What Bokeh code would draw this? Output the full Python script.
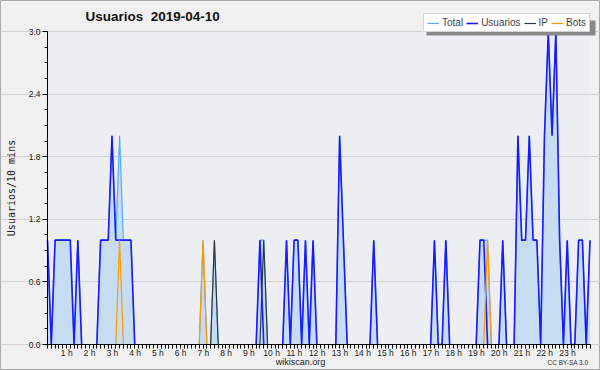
import math
from bokeh.plotting import figure
from bokeh.models import (Range1d, FixedTicker, Legend, LegendItem, Label,
                          PrintfTickFormatter, CustomJSTickFormatter,
                          ColumnDataSource, BoxAnnotation)
from bokeh.embed import file_html
from bokeh.resources import INLINE

# 10-minute bins, 2019-04-10, 00:00 .. 23:50 (six values per hour)
usuarios = [
    1, 0, 1, 1, 1, 1,   # 0 h
    1, 0, 1, 0, 0, 0,   # 1 h
    0, 0, 1, 1, 1, 2,   # 2 h
    1, 1, 1, 1, 1, 0,   # 3 h
    0, 0, 0, 0, 0, 0,   # 4 h
    0, 0, 0, 0, 0, 0,   # 5 h
    0, 0, 0, 0, 0, 0,   # 6 h
    0, 0, 0, 0, 0, 0,   # 7 h
    0, 0, 0, 0, 0, 0,   # 8 h
    0, 0, 1, 0, 0, 0,   # 9 h
    0, 0, 0, 1, 0, 1,   # 10 h
    1, 0, 1, 0, 1, 0,   # 11 h
    0, 0, 0, 0, 0, 2,   # 12 h
    1, 0, 0, 0, 0, 0,   # 13 h
    0, 0, 1, 0, 0, 0,   # 14 h
    0, 0, 0, 0, 0, 0,   # 15 h
    0, 0, 0, 0, 0, 0,   # 16 h
    1, 0, 0, 1, 0, 0,   # 17 h
    0, 0, 0, 0, 0, 0,   # 18 h
    1, 1, 0, 0, 0, 0,   # 19 h
    1, 0, 0, 0, 2, 1,   # 20 h
    1, 2, 1, 1, 0, 2,   # 21 h
    3, 2, 3, 1, 0, 1,   # 22 h
    0, 0, 1, 1, 0, 1,   # 23 h
]
ip = [
    0, 0, 0, 0, 0, 0,   # 0 h
    0, 0, 0, 0, 0, 0,   # 1 h
    0, 0, 0, 0, 0, 0,   # 2 h
    0, 0, 0, 0, 0, 0,   # 3 h
    0, 0, 0, 0, 0, 0,   # 4 h
    0, 0, 0, 0, 0, 0,   # 5 h
    0, 0, 0, 0, 0, 0,   # 6 h
    0, 0, 1, 0, 0, 0,   # 7 h
    0, 0, 0, 0, 0, 0,   # 8 h
    0, 0, 0, 1, 0, 0,   # 9 h
    0, 0, 0, 0, 0, 0,   # 10 h
    0, 0, 0, 0, 0, 0,   # 11 h
    0, 0, 0, 0, 0, 0,   # 12 h
    0, 0, 0, 0, 0, 0,   # 13 h
    0, 0, 0, 0, 0, 0,   # 14 h
    0, 0, 0, 0, 0, 0,   # 15 h
    0, 0, 0, 0, 0, 0,   # 16 h
    0, 0, 0, 0, 0, 0,   # 17 h
    0, 0, 0, 0, 0, 0,   # 18 h
    0, 0, 0, 0, 0, 0,   # 19 h
    0, 0, 0, 0, 0, 0,   # 20 h
    0, 0, 0, 0, 0, 0,   # 21 h
    0, 0, 0, 0, 0, 0,   # 22 h
    0, 0, 0, 0, 0, 0,   # 23 h
]
bots = [
    0, 0, 0, 0, 0, 0,   # 0 h
    0, 0, 0, 0, 0, 0,   # 1 h
    0, 0, 0, 0, 0, 0,   # 2 h
    0, 1, 0, 0, 0, 0,   # 3 h
    0, 0, 0, 0, 0, 0,   # 4 h
    0, 0, 0, 0, 0, 0,   # 5 h
    0, 0, 0, 0, 0, 1,   # 6 h
    0, 0, 0, 0, 0, 0,   # 7 h
    0, 0, 0, 0, 0, 0,   # 8 h
    0, 0, 0, 0, 0, 0,   # 9 h
    0, 0, 0, 0, 0, 0,   # 10 h
    0, 0, 0, 0, 0, 0,   # 11 h
    0, 0, 0, 0, 0, 0,   # 12 h
    0, 0, 0, 0, 0, 0,   # 13 h
    0, 0, 0, 0, 0, 0,   # 14 h
    0, 0, 0, 0, 0, 0,   # 15 h
    0, 0, 0, 0, 0, 0,   # 16 h
    0, 0, 0, 0, 0, 0,   # 17 h
    0, 0, 0, 0, 0, 0,   # 18 h
    0, 0, 1, 0, 0, 0,   # 19 h
    0, 0, 0, 0, 0, 0,   # 20 h
    0, 0, 0, 0, 0, 0,   # 21 h
    0, 0, 0, 0, 0, 0,   # 22 h
    0, 0, 0, 0, 0, 0,   # 23 h
]
total = [u + i + b for u, i, b in zip(usuarios, ip, bots)]
hours = [k / 6 for k in range(len(usuarios))]
hour_ticks = list(range(1, 24))
y_ticks = [0.0, 0.6, 1.2, 1.8, 2.4, 3.0]
Y_MAX = 3.0
X_MAX = hours[-1]


def hide_flat_zero(vals):
    """Do not draw runs lying on the baseline (the axis line is there)."""
    n = len(vals)
    out = []
    for k, v in enumerate(vals):
        near = (k > 0 and vals[k - 1] != 0) or (k < n - 1 and vals[k + 1] != 0)
        out.append(v if (v != 0 or near) else math.nan)
    return out


src = ColumnDataSource(dict(x=hours, total=total, zero=[0] * len(hours),
                            total_l=hide_flat_zero(total),
                            usuarios_l=hide_flat_zero(usuarios),
                            ip_l=hide_flat_zero(ip),
                            bots_l=hide_flat_zero(bots)))

# ---- layout in pixels (figure coordinates, origin top-left) ----
W, H = 600, 370
DL, DR = 47, 589.5    # x of 0 h and of last bin
DT, DB = 31, 344      # y of 3.0 and of 0.0
PPH = (DR - DL) / X_MAX
PPU = (DB - DT) / Y_MAX


def px2x(px):
    return (px - DL) / PPH


def px2y(py):
    return (DB - py) / PPU


FONT = "Liberation Sans"

p = figure(width=W, height=H, output_backend="svg", toolbar_location=None,
           x_range=Range1d(px2x(0), px2x(W)), y_range=Range1d(px2y(H), px2y(0)),
           min_border=0, background_fill_color="#f0f0f0", border_fill_color="#f0f0f0",
           outline_line_color="#a8a8a8")
p.title.visible = False

# plot area background
p.add_layout(BoxAnnotation(left=0, right=X_MAX, bottom=0, top=Y_MAX, level="image",
                           fill_color="#eceef1", fill_alpha=1.0, line_color=None))

p.varea(x="x", y1="zero", y2="total", source=src, fill_color="#c6dcf0")
r_total = p.line("x", "total_l", source=src, line_color="#55aaff", line_width=1.2)
r_user = p.line("x", "usuarios_l", source=src, line_color="#1a1aff", line_width=1.6)
r_ip = p.line("x", "ip_l", source=src, line_color="#303840", line_width=1.2)
r_bots = p.line("x", "bots_l", source=src, line_color="#ff9900", line_width=1.2)

# x axis: a tick every 10 minutes, hour labels drawn a little left of their tick
LABEL_SHIFT = 3.5 / PPH
xa = p.xaxis[0]
xa.fixed_location = 0
xa.bounds = (0, X_MAX)
xa.ticker = FixedTicker(ticks=[h - LABEL_SHIFT for h in hour_ticks], minor_ticks=hours)
xa.formatter = CustomJSTickFormatter(code="return Math.round(tick) + ' h'")
xa.major_label_text_font = FONT
xa.major_label_text_font_size = "8.5px"
xa.major_label_text_color = "#222222"
xa.major_label_standoff = -1
xa.major_tick_out = 0
xa.major_tick_in = 0
xa.minor_tick_out = 4
xa.minor_tick_in = 0
xa.axis_line_color = "black"

ya = p.yaxis[0]
ya.fixed_location = 0
ya.bounds = (0, Y_MAX)
ya.ticker = FixedTicker(ticks=y_ticks, minor_ticks=[k * 0.15 for k in range(21)])
ya.formatter = PrintfTickFormatter(format="%.1f")
ya.major_label_text_font = FONT
ya.major_label_text_font_size = "8.5px"
ya.major_label_text_color = "#222222"
ya.major_label_standoff = 2
ya.major_tick_out = 5
ya.major_tick_in = 0
ya.minor_tick_out = 3
ya.minor_tick_in = 0
ya.axis_label = "Usuarios/10 mins"
ya.axis_label_text_font = "DejaVu Sans Mono"
ya.axis_label_text_font_size = "10px"
ya.axis_label_text_font_style = "normal"
ya.axis_label_text_color = "#222222"
ya.axis_label_standoff = 9

p.xgrid.grid_line_color = None
p.ygrid.grid_line_color = "#cfd0d2"
p.ygrid.bounds = (0, X_MAX)

# title and footer texts
p.add_layout(Label(x=px2x(85), y=px2y(16), text="Usuarios\u00a0 2019-04-10",
                   text_font=FONT, text_font_size="13.5px", text_font_style="bold",
                   text_align="left", text_baseline="middle", text_color="#111111"))
p.add_layout(Label(x=px2x(300), y=px2y(361), text="wikiscan.org", text_font=FONT,
                   text_font_size="9px", text_align="center", text_baseline="middle",
                   text_color="#222222"))
p.add_layout(Label(x=px2x(588), y=px2y(362), text="CC BY-SA 3.0", text_font=FONT,
                   text_font_size="6.5px", text_align="right", text_baseline="middle",
                   text_color="#333333"))

# legend with a drop shadow
LG_L, LG_R, LG_T, LG_B = 423, 592, 17, 32
p.add_layout(BoxAnnotation(left=px2x(LG_L + 3), right=px2x(LG_R + 3),
                           top=px2y(LG_T + 3), bottom=px2y(LG_B + 3),
                           fill_color="#888888", fill_alpha=1.0, line_color=None))
legend = Legend(items=[LegendItem(label="Total", renderers=[r_total]),
                       LegendItem(label="Usuarios", renderers=[r_user]),
                       LegendItem(label="IP", renderers=[r_ip]),
                       LegendItem(label="Bots", renderers=[r_bots])],
                orientation="horizontal", location=(LG_L, H - LG_B),
                label_text_font=FONT, label_text_font_size="10px",
                label_standoff=3, glyph_width=12, glyph_height=10, spacing=3,
                padding=3, margin=0, label_height=9, label_width=5,
                border_line_color="#aaaaaa", background_fill_color="white",
                background_fill_alpha=1.0)
p.add_layout(legend)

open("out.html", "w").write(file_html(p, INLINE))
